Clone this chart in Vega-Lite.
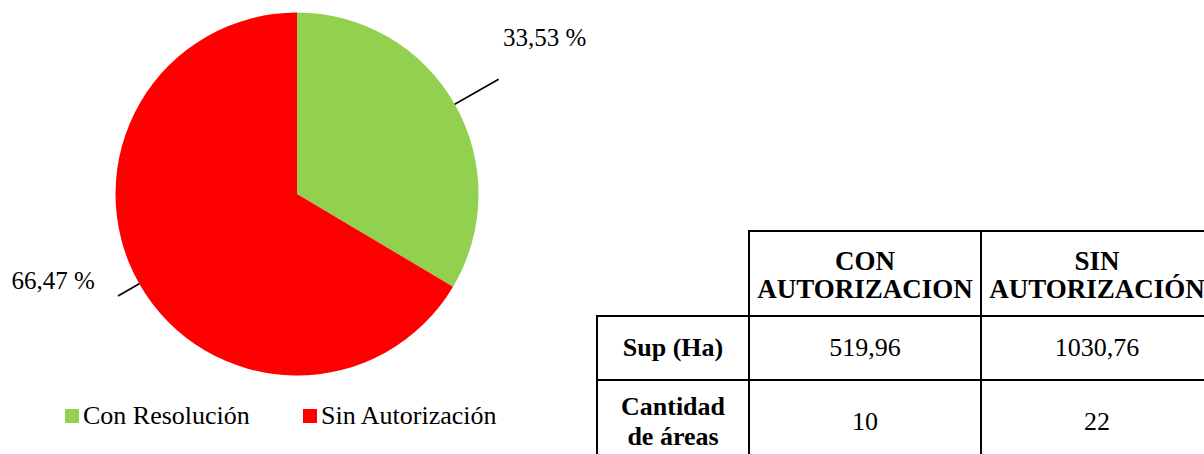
{
  "$schema": "https://vega.github.io/schema/vega-lite/v6.json",
  "padding": {"left": 0, "top": 0, "right": -10, "bottom": -11},
  "autosize": {"type": "pad"},
  "background": "white",
  "config": {
    "font": "Liberation Serif",
    "view": {"stroke": null},
    "concat": {"spacing": 0},
    "legend": {"labelFont": "Liberation Serif"}
  },
  "spacing": 3,
  "bounds": "flush",
  "hconcat": [
    {
      "width": 594,
      "height": 388,
      "data": {
        "values": [
          {"categoria": "Con Resolución", "valor": 33.53, "etiqueta": "33,53 %"},
          {"categoria": "Sin Autorización", "valor": 66.47, "etiqueta": "66,47 %"}
        ]
      },
      "encoding": {
        "theta": {"field": "valor", "type": "quantitative", "stack": true}
      },
      "resolve": {"scale": {"theta": "independent"}},
      "layer": [
        {
          "mark": {"type": "arc", "outerRadius": 181.5},
          "encoding": {
            "color": {
              "field": "categoria",
              "type": "nominal",
              "scale": {"domain": ["Con Resolución", "Sin Autorización"], "range": ["#92D050", "#FF0000"]},
              "legend": {
                "orient": "none",
                "legendX": 59,
                "legendY": 403,
                "direction": "horizontal",
                "title": null,
                "symbolType": "square",
                "symbolSize": 196,
                "symbolStrokeWidth": 0,
                "symbolOpacity": 1,
                "labelFont": "Liberation Serif",
                "labelFontSize": 26,
                "labelColor": "black",
                "labelLimit": 400,
                "labelOffset": -2,
                "columnPadding": 47
              }
            }
          }
        },
        {
          "mark": {"type": "arc", "outerRadius": 232, "innerRadius": 181.5, "padAngle": 3.14, "fill": "transparent", "stroke": "black", "strokeWidth": 1.6},
          "encoding": {
            "detail": {"field": "categoria", "type": "nominal"},
            "strokeOpacity": {"condition": {"test": "datum.categoria === 'Con Resolución'", "value": 1}, "value": 0}
          }
        },
        {
          "mark": {"type": "arc", "outerRadius": 206, "innerRadius": 181.5, "padAngle": 3.14, "fill": "transparent", "stroke": "black", "strokeWidth": 1.6},
          "encoding": {
            "theta": {"field": "valor", "type": "quantitative", "stack": true, "scale": {"range": [1.864, 5.355]}},
            "detail": {"field": "categoria", "type": "nominal"},
            "strokeOpacity": {"condition": {"test": "datum.categoria === 'Sin Autorización'", "value": 1}, "value": 0}
          }
        },
        {
          "mark": {"type": "text", "radius": 230, "align": "left", "baseline": "alphabetic", "dx": 6, "dy": -34, "fontSize": 25, "font": "Liberation Serif", "color": "black"},
          "encoding": {
            "detail": {"field": "categoria", "type": "nominal"},
            "text": {"condition": {"test": "datum.categoria === 'Con Resolución'", "field": "etiqueta", "type": "nominal"}, "value": ""}
          }
        },
        {
          "mark": {"type": "text", "radius": 205, "align": "right", "baseline": "alphabetic", "dx": -24, "dy": -6, "fontSize": 25, "font": "Liberation Serif", "color": "black"},
          "encoding": {
            "detail": {"field": "categoria", "type": "nominal"},
            "text": {"condition": {"test": "datum.categoria === 'Sin Autorización'", "field": "etiqueta", "type": "nominal"}, "value": ""}
          }
        }
      ]
    },
    {
      "spacing": 0,
      "bounds": "flush",
      "vconcat": [
        {"width": 1, "height": 231, "data": {"values": []}, "mark": "point"},
        {
          "columns": 3,
          "spacing": 0,
          "align": "each",
          "bounds": "flush",
          "concat": [
            {"width": 152, "height": 85, "data": {"values": []}, "mark": "text", "encoding": {}},
            {"width": 232, "height": 85, "view": {"stroke": "black", "strokeWidth": 2},
             "data": {"values": [{"texto": "CON\nAUTORIZACION"}]},
             "mark": {"type": "text", "font": "Liberation Serif", "fontSize": 27, "fontWeight": "bold", "lineBreak": "\n", "lineHeight": 28, "dy": -12, "color": "black"},
             "encoding": {"text": {"field": "texto", "type": "nominal"}}},
            {"width": 232, "height": 85, "view": {"stroke": "black", "strokeWidth": 2},
             "data": {"values": [{"texto": "SIN\nAUTORIZACIÓN"}]},
             "mark": {"type": "text", "font": "Liberation Serif", "fontSize": 27, "fontWeight": "bold", "lineBreak": "\n", "lineHeight": 28, "dy": -12, "color": "black"},
             "encoding": {"text": {"field": "texto", "type": "nominal"}}},
            {"width": 152, "height": 64, "view": {"stroke": "black", "strokeWidth": 2},
             "data": {"values": [{"texto": "Sup (Ha)"}]},
             "mark": {"type": "text", "font": "Liberation Serif", "fontSize": 26, "fontWeight": "bold", "color": "black"},
             "encoding": {"text": {"field": "texto", "type": "nominal"}}},
            {"width": 232, "height": 64, "view": {"stroke": "black", "strokeWidth": 2},
             "data": {"values": [{"texto": "519,96"}]},
             "mark": {"type": "text", "font": "Liberation Serif", "fontSize": 26, "color": "black"},
             "encoding": {"text": {"field": "texto", "type": "nominal"}}},
            {"width": 232, "height": 64, "view": {"stroke": "black", "strokeWidth": 2},
             "data": {"values": [{"texto": "1030,76"}]},
             "mark": {"type": "text", "font": "Liberation Serif", "fontSize": 26, "color": "black"},
             "encoding": {"text": {"field": "texto", "type": "nominal"}}},
            {"width": 152, "height": 84, "view": {"stroke": "black", "strokeWidth": 2},
             "data": {"values": [{"texto": "Cantidad\nde áreas"}]},
             "mark": {"type": "text", "font": "Liberation Serif", "fontSize": 26, "fontWeight": "bold", "lineBreak": "\n", "lineHeight": 30, "dy": -15, "color": "black"},
             "encoding": {"text": {"field": "texto", "type": "nominal"}}},
            {"width": 232, "height": 84, "view": {"stroke": "black", "strokeWidth": 2},
             "data": {"values": [{"texto": "10"}]},
             "mark": {"type": "text", "font": "Liberation Serif", "fontSize": 26, "color": "black"},
             "encoding": {"text": {"field": "texto", "type": "nominal"}}},
            {"width": 232, "height": 84, "view": {"stroke": "black", "strokeWidth": 2},
             "data": {"values": [{"texto": "22"}]},
             "mark": {"type": "text", "font": "Liberation Serif", "fontSize": 26, "color": "black"},
             "encoding": {"text": {"field": "texto", "type": "nominal"}}}
          ]
        }
      ]
    }
  ]
}
